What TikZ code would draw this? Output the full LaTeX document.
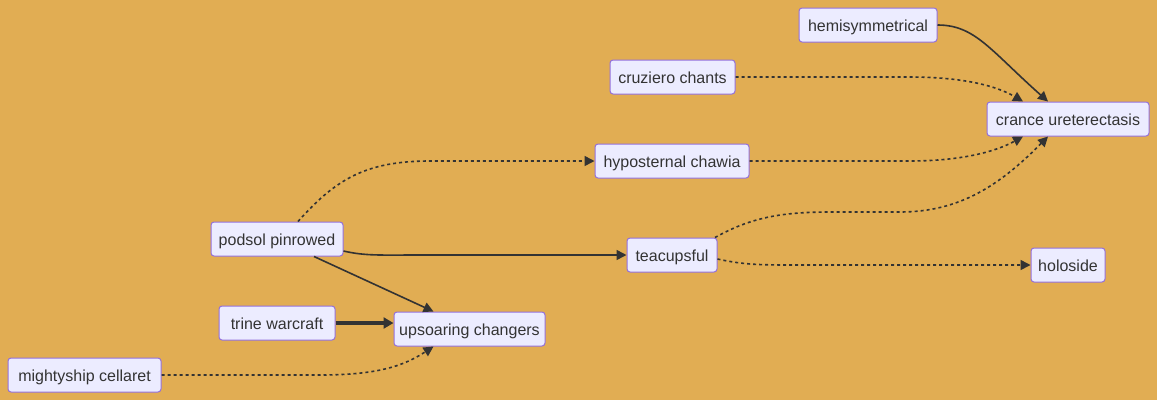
\documentclass[tikz,border=0pt]{standalone}
\usepackage{fontspec}
\setmainfont{Liberation Sans}
\usetikzlibrary{arrows.meta}
\definecolor{bg}{RGB}{225,173,83}
\definecolor{nodefill}{RGB}{236,236,255}
\definecolor{nodeborder}{RGB}{147,112,219}
\definecolor{ink}{RGB}{51,51,51}
\tikzset{
  box/.style={draw=nodeborder, fill=nodefill, line width=1pt, rounded corners=3pt,
    minimum height=34pt, minimum width=#1, inner sep=0pt, text=ink,
    text height=13pt, text depth=0pt,
    font=\fontsize{16pt}{19pt}\selectfont},
  link/.style={draw=ink, line width=1.6pt, -{Triangle[length=10pt,width=10pt]}},
  dotlink/.style={link, dash pattern=on 3pt off 3pt},
  thicklink/.style={link, line width=3.2pt, -{Triangle[length=10pt,width=11pt]}},
}
\begin{document}
\begin{tikzpicture}[x=1pt,y=-1pt]
\path[fill=bg] (0,0) rectangle (1157,400);
\useasboundingbox (0,0) rectangle (1157,400);
\node[box=138pt] (hemi) at (868,25) {hemisymmetrical};
\node[box=125pt] (cruz) at (672.5,77) {cruziero chants};
\node[box=162pt] (cran) at (1068,119) {crance ureterectasis};
\node[box=154pt] (hypo) at (672,161) {hyposternal chawia};
\node[box=132pt] (pods) at (277,239) {podsol pinrowed};
\node[box=90pt] (teac) at (672,255) {teacupsful};
\node[box=74pt] (holo) at (1068,265) {holoside};
\node[box=116pt] (trin) at (277,323) {trine warcraft};
\node[box=151pt] (upso) at (469.5,329) {upsoaring changers};
\node[box=153pt] (migh) at (84.5,375) {mightyship cellaret};

\draw[link] (hemi.east) .. controls (975,25) and (990,50) .. ([xshift=-20pt]cran.north);
\draw[dotlink] (cruz.east) -- (910,77) .. controls (960,77) and (995,85) .. ([xshift=-45pt]cran.north);
\draw[dotlink] (hypo.east) -- (910,161) .. controls (960,161) and (995,152) .. ([xshift=-45pt]cran.south);
\draw[dotlink] ([xshift=43pt]teac.north) .. controls (750,218) and (780,212) .. (830,212) -- (900,212) .. controls (960,212) and (1000,185) .. ([xshift=-20pt]cran.south);
\draw[dotlink] ([xshift=21pt]pods.north) .. controls (335,180) and (365,161) .. (430,161) -- (hypo.west);
\draw[link] ([yshift=-12pt]pods.east) .. controls (365,256) and (380,255) .. (420,255) -- (teac.west);
\draw[dotlink] ([yshift=-4pt]teac.east) .. controls (745,265) and (760,265) .. (800,265) -- (holo.west);
\draw[link] ([xshift=37pt]pods.south) -- ([xshift=-36pt]upso.north);
\draw[thicklink] (trin.east) -- ([yshift=6pt]upso.west);
\draw[dotlink] (migh.east) -- (320,375) .. controls (380,375) and (405,365) .. ([xshift=-36pt]upso.south);
\end{tikzpicture}
\end{document}
